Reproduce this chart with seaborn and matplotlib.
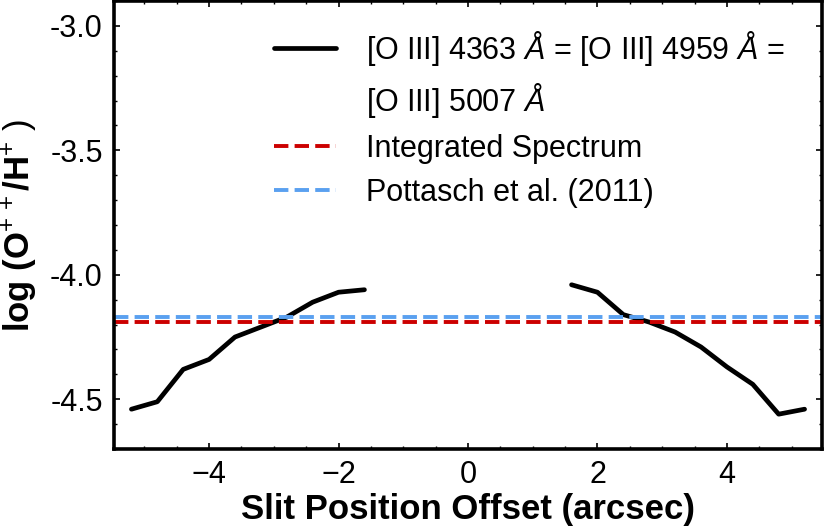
import numpy as np
import pandas as pd
import matplotlib
matplotlib.use("Agg")
import matplotlib.pyplot as plt
import seaborn as sns
from matplotlib.lines import Line2D
from matplotlib.ticker import MultipleLocator, FormatStrFormatter

# ---- data ----
offset_left = [-5.2, -4.8, -4.4, -4.0, -3.6, -3.2, -2.8, -2.4, -2.0, -1.6]
abund_left = [-4.54, -4.51, -4.38, -4.34, -4.25, -4.21, -4.17, -4.11, -4.07, -4.06]
offset_right = [1.6, 2.0, 2.4, 2.8, 3.2, 3.6, 4.0, 4.4, 4.8, 5.2]
abund_right = [-4.04, -4.07, -4.16, -4.19, -4.23, -4.29, -4.37, -4.44, -4.56, -4.54]
integrated_value = -4.19
pottasch_value = -4.17

label_curve_1 = "[O III] 4363 $\\AA$ = [O III] 4959 $\\AA$ ="
label_curve_2 = "[O III] 5007 $\\AA$"
label_integrated = "Integrated Spectrum"
label_pottasch = "Pottasch et al. (2011)"

df = pd.DataFrame({
    "offset": offset_left + offset_right,
    "abund": abund_left + abund_right,
    "side": ["left"] * len(offset_left) + ["right"] * len(offset_right),
})

sns.set_theme(style="ticks")
plt.rcParams["font.family"] = ["Liberation Sans", "DejaVu Sans"]
plt.rcParams["mathtext.fontset"] = "custom"
plt.rcParams["mathtext.rm"] = "Liberation Sans"
plt.rcParams["mathtext.it"] = "Liberation Sans:italic"
plt.rcParams["mathtext.bf"] = "Liberation Sans:bold"
for k in ["text.color", "axes.labelcolor", "xtick.color", "ytick.color", "axes.edgecolor"]:
    plt.rcParams[k] = "black"

red = "#cc0000"
blue = "#5aa0f0"

fig = plt.figure(figsize=(8.27, 5.31), dpi=100)
ax = fig.add_axes([0.1378, 0.1544, 0.8562, 0.8436])

sns.lineplot(data=df, x="offset", y="abund", units="side", estimator=None,
             color="black", lw=3.4, ax=ax, legend=False)
ax.axhline(integrated_value, color=red, ls="--", lw=2.8)
ax.axhline(pottasch_value, color=blue, ls="--", lw=2.8)

ax.set_xlim(-5.47, 5.47)
ax.set_ylim(-4.7, -2.9)

ax.xaxis.set_major_locator(MultipleLocator(2))
ax.xaxis.set_minor_locator(MultipleLocator(0.5))
ax.yaxis.set_major_locator(MultipleLocator(0.5))
ax.yaxis.set_minor_locator(MultipleLocator(0.1))
ax.yaxis.set_major_formatter(FormatStrFormatter("%.1f"))

ax.tick_params(which="both", direction="in", top=True, right=True)
ax.tick_params(which="major", length=4, width=1.2, labelsize=22, pad=8)
ax.tick_params(which="minor", length=2.2, width=1.0)
for s in ax.spines.values():
    s.set_linewidth(2.6)
    s.set_color("black")

ax.set_xlabel("Slit Position Offset (arcsec)", fontsize=25, fontweight="bold", labelpad=2)
ax.set_ylabel("log (O$^{+\\,+}$/H$^{+}\\ )$", fontsize=25, fontweight="bold", labelpad=8)

handles = [
    Line2D([], [], color="black", lw=3.4),
    Line2D([], [], color="none", lw=0),
    Line2D([], [], color=red, lw=2.8, ls="--"),
    Line2D([], [], color=blue, lw=2.8, ls="--"),
]
ax.legend(handles, [label_curve_1, label_curve_2, label_integrated, label_pottasch],
          loc="upper right", bbox_to_anchor=(0.986, 1.0), frameon=False, fontsize=22,
          handlelength=2.0, handletextpad=1.0, labelspacing=0.45, borderaxespad=0.5)

fig.savefig("out.png", dpi=100)
